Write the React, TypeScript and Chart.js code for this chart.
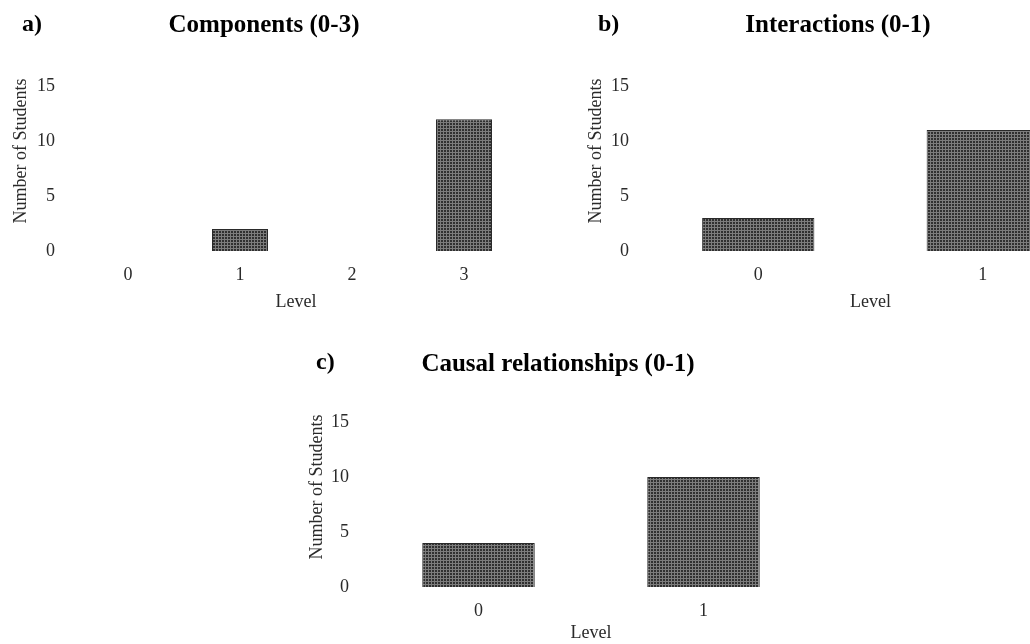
import React, { useEffect, useRef } from "react";
import { Chart, registerables } from "chart.js";

Chart.register(...registerables);

// ---- data ----
const componentsLevels = ["0", "1", "2", "3"];
const componentsStudents = [0, 2, 0, 12];
const interactionsLevels = ["0", "1"];
const interactionsStudents = [3, 11];
const causalLevels = ["0", "1"];
const causalStudents = [4, 10];
const yTickValues = [0, 5, 10, 15];
const yAxisTitle = "Number of Students";
const xAxisTitle = "Level";
const panelTitles = ["Components (0-3)", "Interactions (0-1)", "Causal relationships (0-1)"];
const panelLetters = ["a)", "b)", "c)"];

const SERIF = "'Liberation Serif', 'Times New Roman', serif";

function makePattern(): CanvasPattern | string {
  const c = document.createElement("canvas");
  c.width = 3;
  c.height = 3;
  const ctx = c.getContext("2d");
  if (!ctx) return "#555555";
  ctx.fillStyle = "#7c7c7c";
  ctx.fillRect(0, 0, 3, 3);
  ctx.fillStyle = "#303030";
  ctx.fillRect(0, 0, 2, 2);
  const p = ctx.createPattern(c, "repeat");
  return p || "#555555";
}

type PanelProps = {
  labels: string[];
  values: number[];
  left: number;
  top: number;
  width: number;
  height: number;
  padTop: number;
  padRight: number;
  xScaleHeight: number;
  yTitlePad: number;
};

function Panel(p: PanelProps) {
  const ref = useRef<HTMLCanvasElement | null>(null);
  useEffect(() => {
    if (!ref.current) return;
    const font = { family: SERIF, size: 18 };
    const chart = new Chart(ref.current, {
      type: "bar",
      data: {
        labels: p.labels,
        datasets: [
          {
            data: p.values,
            backgroundColor: makePattern() as any,
            borderColor: "#2a2a2a",
            borderWidth: 1,
            barPercentage: 0.5,
            categoryPercentage: 1,
          },
        ],
      },
      options: {
        animation: false,
        responsive: false,
        maintainAspectRatio: false,
        layout: {
          padding: {
            left: 0,
            right: p.padRight,
            top: p.padTop,
            bottom: p.height - p.padTop - 200 - p.xScaleHeight,
          },
        },
        plugins: {
          legend: { display: false },
          tooltip: { enabled: false },
          title: { display: false },
        },
        scales: {
          x: {
            grid: { display: false, drawTicks: false },
            border: { display: false },
            ticks: { padding: 13, font, color: "#2a2a2a" },
            title: {
              display: true,
              text: xAxisTitle,
              font,
              color: "#2a2a2a",
              padding: { top: 0, bottom: 0 },
            },
            afterFit: (s: any) => {
              s.height = p.xScaleHeight;
            },
          },
          y: {
            min: 0,
            max: 18.2,
            grid: { display: false, drawTicks: false },
            border: { display: false },
            afterBuildTicks: (s: any) => {
              s.ticks = yTickValues.map((v) => ({ value: v }));
            },
            ticks: { padding: 17, font, color: "#2a2a2a" },
            title: {
              display: true,
              text: yAxisTitle,
              font,
              color: "#2a2a2a",
              padding: { top: p.yTitlePad, bottom: 0 },
            },
            afterFit: (s: any) => {
              s.width = 72;
            },
          },
        },
      } as any,
    });
    return () => chart.destroy();
  }, []);
  return (
    <canvas
      ref={ref}
      width={p.width}
      height={p.height}
      style={{ position: "absolute", left: p.left, top: p.top, width: p.width, height: p.height }}
    />
  );
}

function Label(props: { text: string; x: number; y: number; size: number; center?: boolean }) {
  return (
    <div
      style={{
        position: "absolute",
        left: props.x,
        top: props.y,
        transform: props.center ? "translate(-50%, -50%)" : "translate(0, -50%)",
        fontFamily: SERIF,
        fontWeight: "bold",
        fontSize: props.size,
        lineHeight: 1,
        whiteSpace: "nowrap",
        color: "#000",
      }}
    >
      {props.text}
    </div>
  );
}

export default function App() {
  return (
    <div
      style={{
        position: "fixed",
        left: 0,
        top: 0,
        width: 1030,
        height: 644,
        overflow: "hidden",
        background: "#fff",
      }}
    >
      <Panel
        labels={componentsLevels}
        values={componentsStudents}
        left={0}
        top={0}
        width={540}
        height={320}
        padTop={51}
        padRight={20}
        xScaleHeight={62}
        yTitlePad={10}
      />
      <Panel
        labels={interactionsLevels}
        values={interactionsStudents}
        left={574}
        top={0}
        width={540}
        height={320}
        padTop={51}
        padRight={19}
        xScaleHeight={62}
        yTitlePad={11}
      />
      <Panel
        labels={causalLevels}
        values={causalStudents}
        left={294}
        top={330}
        width={540}
        height={314}
        padTop={57}
        padRight={18}
        xScaleHeight={57}
        yTitlePad={12}
      />
      <Label text={panelLetters[0]} x={22} y={23} size={24} />
      <Label text={panelTitles[0]} x={264} y={23} size={25} center />
      <Label text={panelLetters[1]} x={598} y={23} size={24} />
      <Label text={panelTitles[1]} x={838} y={23} size={25} center />
      <Label text={panelLetters[2]} x={316} y={361} size={24} />
      <Label text={panelTitles[2]} x={558} y={362} size={25} center />
    </div>
  );
}
